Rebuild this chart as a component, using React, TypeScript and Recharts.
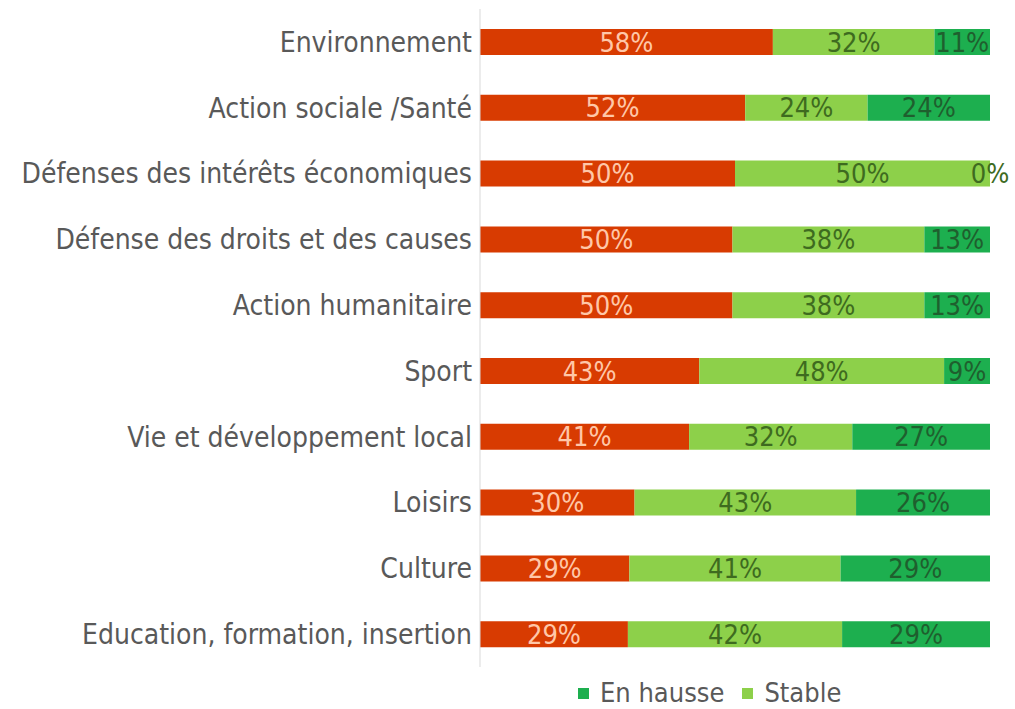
import React from 'react'
import { BarChart, Bar, XAxis, YAxis, LabelList } from 'recharts'

const categories = [
  'Environnement',
  'Action sociale /Santé',
  'Défenses des intérêts économiques',
  'Défense des droits et des causes',
  'Action humanitaire',
  'Sport',
  'Vie et développement local',
  'Loisirs',
  'Culture',
  'Education, formation, insertion',
]
const enBaisse = [58, 52, 50, 50, 50, 43, 41, 30, 29, 29]
const stable = [32, 24, 50, 38, 38, 48, 32, 43, 41, 42]
const enHausse = [11, 24, 0, 13, 13, 9, 27, 26, 29, 29]

const data = categories.map((name, i) => ({
  name,
  baisse: enBaisse[i],
  stable: stable[i],
  hausse: enHausse[i],
}))

const FONT = '"DejaVu Sans Condensed", "Liberation Sans Narrow", sans-serif'

const makeLabel = (color: string) => (props: any) => {
  const { x, y, width, height, value } = props
  if (!value) return null
  return (
    <text
      x={x + width / 2}
      y={y + height / 2}
      textAnchor="middle"
      dominantBaseline="central"
      fill={color}
      fontSize={27}
      fontFamily={FONT}
    >
      {`${value}%`}
    </text>
  )
}

// a 0% "en hausse" segment has no rect, so its label goes at the end of the stable bar
const zeroHausseLabel = (props: any) => {
  const { x, y, width, height, index } = props
  if (enHausse[index] !== 0) return null
  return (
    <text
      x={x + width}
      y={y + height / 2}
      textAnchor="middle"
      dominantBaseline="central"
      fill="#3E6B1F"
      fontSize={27}
      fontFamily={FONT}
    >
      {`${enHausse[index]}%`}
    </text>
  )
}

const legendItems = [
  { label: 'En hausse', color: '#1DAF4F' },
  { label: 'Stable', color: '#8DD04A' },
]

export default function App() {
  return (
    <div style={{ position: 'absolute', left: 0, top: 0, width: 1015, height: 709, background: '#fff' }}>
      <BarChart
        width={1015}
        height={709}
        data={data}
        layout="vertical"
        stackOffset="expand"
        margin={{ top: 9, right: 25, left: 0, bottom: 42 }}
      >
        <XAxis type="number" hide domain={[0, 1]} />
        <YAxis
          type="category"
          dataKey="name"
          width={480}
          tickLine={false}
          axisLine={{ stroke: '#D9D9D9' }}
          tick={{ fill: '#595959', fontSize: 28, fontFamily: FONT }}
          tickMargin={2}
          interval={0}
        />
        <Bar dataKey="baisse" stackId="a" fill="#D83B01" barSize={26} isAnimationActive={false}>
          <LabelList dataKey="baisse" content={makeLabel('#FFC7A8')} />
        </Bar>
        <Bar dataKey="stable" stackId="a" fill="#8DD04A" barSize={26} isAnimationActive={false}>
          <LabelList dataKey="stable" content={makeLabel('#3E6B1F')} />
          <LabelList dataKey="stable" content={zeroHausseLabel} />
        </Bar>
        <Bar dataKey="hausse" stackId="a" fill="#1DAF4F" barSize={26} isAnimationActive={false}>
          <LabelList dataKey="hausse" content={makeLabel('#1F5F2E')} />
        </Bar>
      </BarChart>
      <div
        style={{
          position: 'absolute',
          top: 676,
          left: 578,
          display: 'flex',
          gap: 18,
          fontFamily: FONT,
          fontSize: 27,
          color: '#595959',
          lineHeight: '34px',
        }}
      >
        {legendItems.map((it) => (
          <span key={it.label} style={{ display: 'flex', alignItems: 'center' }}>
            <span style={{ width: 11, height: 11, background: it.color, marginRight: 11, display: 'inline-block' }} />
            {it.label}
          </span>
        ))}
      </div>
    </div>
  )
}
